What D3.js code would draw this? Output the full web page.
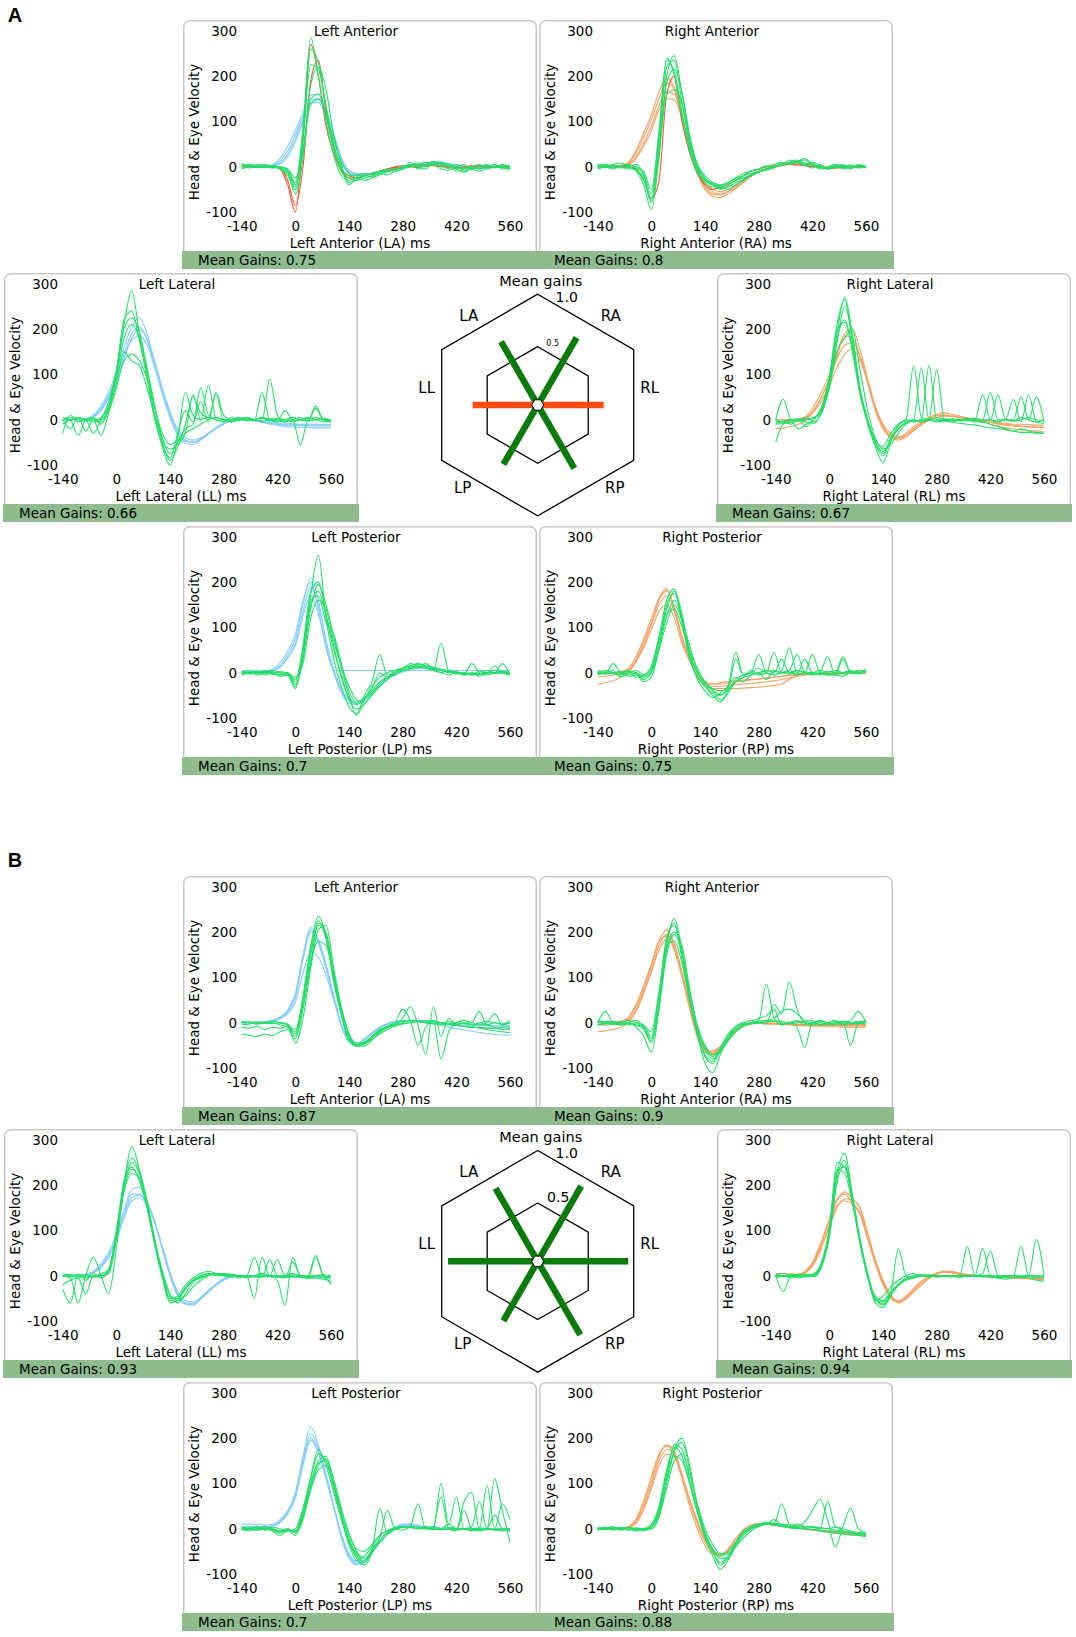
<!DOCTYPE html>
<html><head><meta charset="utf-8">
<script src="https://cdn.jsdelivr.net/npm/d3@7"></script>
<style>body{margin:0;background:#fff}svg{display:block}</style>
</head><body>
<svg id="c" width="1076" height="1637"></svg>
<script>
// ---------- data ----------
const timesMs = [-140,-120,-100,-80,-60,-40,-20,0,20,40,60,80,100,120,140,160,180,200,220,240,260,280,300,320,340,360,380,400,420,440,460,480,500,520,540,560];
const yTickValues = [-100,0,100,200,300];
const xTickValues = [-140,0,140,280,420,560];
const canalCodes = ["LA","RA","LL","RL","LP","RP"];
const canalNames = ["Left Anterior","Right Anterior","Left Lateral","Right Lateral","Left Posterior","Right Posterior"];
const gainsA = [0.75,0.8,0.66,0.67,0.7,0.75];
const gainsB = [0.87,0.9,0.93,0.94,0.7,0.88];

// A - Left Anterior
const A_LA_head = [
[0,0,0,1,3,12,35, 70,112,148,150,120,70,20, -10,-18,-18,-15,-10,-8,-5, -2,0,3,6,8,8,6, 3,0,-2,-3,-2,0,0,0],
[0,0,0,0,2,8,28, 62,105,140,142,110,60,12, -15,-20,-20,-16,-12,-8,-5, -2,2,5,8,10,10,7, 4,1,-1,-2,-1,0,0,0],
[0,0,1,2,5,18,45, 80,120,158,160,125,70,18, -10,-15,-16,-14,-10,-6,-4, -2,0,2,5,6,6,5, 2,0,-2,-3,-2,-1,0,0],
[0,0,0,0,1,6,22, 55,98,135,148,125,72,20, -8,-15,-16,-14,-10,-7,-4, -2,0,3,5,7,7,5, 3,1,-1,-2,-2,0,0,0]];
const A_LA_extra = [
[0,0,0,0,0,-5,-40, -100,60,270,200,90,30,-10, -25,-25,-20,-15,-10,-5,-2, 0,3,5,4,2,0,-2, -3,0,2,0,-2,0,0,0],
[0,0,0,0,0,-3,-30, -85,0,190,235,120,40,-5, -20,-25,-20,-15,-10,-5,0, 2,0,-2,3,5,2,0, -2,-3,0,2,0,-2,0,0]];
const A_LA_eye = [
[5,3,0,-2,0,-5,-20, -50,60,260,230,130,45,-10, -25,-30,-25,-20,-15,-10,-5, 0,5,-5,5,10,0,5, -10,-5,0,-5,0,5,-5,0],
[0,5,2,0,3,-2,-10, -40,90,285,200,100,25,-20, -30,-25,-20,-22,-15,-18,-10, -5,10,0,-5,8,5,-5, 5,-10,0,5,-5,0,3,0],
[-5,0,3,5,0,-5,-15, -60,20,180,220,170,70,5, -35,-30,-20,-15,-12,-8,-10, -5,0,5,10,5,-5,-8, 0,5,-5,-10,-3,2,0,-5],
[3,-3,0,2,-2,0,-8, -35,40,150,160,110,40,-5, -20,-18,-20,-15,-10,-5,-8, 0,3,8,2,5,10,3, -5,-3,0,-5,2,0,-2,3],
[0,2,-2,0,0,-3,-12, -45,70,225,215,135,50,0, -40,-22,-15,-18,-10,-12,-5, -3,2,0,5,12,8,0, -5,-12,-5,0,5,-2,0,-8],
[8,0,5,0,-3,0,-5, -25,30,140,150,115,60,10, -15,-25,-30,-25,-18,-10,-5, -2,0,3,0,5,8,5, 0,-3,-5,0,2,-2,5,0]];

// A - Right Anterior
const A_RA_head = [
[0,0,0,2,8,30,65, 105,150,185,170,110,45,-10, -45,-60,-62,-55,-40,-28,-18, -10,-3,2,5,8,8,5, 2,0,-2,-3,-2,0,0,0],
[0,0,0,1,5,22,52, 90,135,165,160,110,50,-5, -40,-55,-60,-55,-45,-32,-20, -12,-5,0,3,6,7,5, 3,0,-2,-3,-2,-1,0,0],
[0,0,1,3,10,35,75, 115,165,195,175,105,35,-15, -50,-65,-68,-60,-48,-35,-22, -12,-5,0,4,7,8,6, 3,0,-1,-2,-2,0,0,0],
[0,0,0,1,4,18,45, 80,125,150,148,105,48,0, -35,-50,-55,-50,-42,-30,-20, -10,-4,0,3,5,6,5, 2,0,-2,-2,-1,0,0,0]];
const A_RA_extra = [
[0,0,0,0,0,-5,-30, -70,-30,160,200,100,30,-15, -40,-50,-45,-40,-30,-20,-10, -5,0,2,4,5,4,2, 0,-2,-3,-2,0,0,0,0]];
const A_RA_eye = [
[0,5,-3,0,5,-5,-25, -70,50,220,235,140,50,-10, -35,-45,-45,-38,-30,-20,-15, -10,-5,0,5,10,15,8, 5,0,-5,0,5,-3,2,0],
[-5,0,5,8,0,-10,-40, -95,20,200,245,160,60,0, -30,-40,-50,-42,-30,-25,-18, -10,-8,-3,5,8,12,15, 5,-5,-3,5,0,-5,3,-2],
[5,3,0,-3,0,5,-15, -60,70,235,210,120,35,-15, -30,-35,-40,-35,-25,-15,-10, -5,0,5,10,5,12,5, -3,5,-5,0,-2,4,-3,0],
[0,-2,3,0,-5,-3,-20, -80,40,185,215,165,70,5, -25,-38,-48,-45,-35,-28,-20, -12,-5,0,3,15,10,2, 8,-2,0,5,-5,0,2,-3],
[3,0,-5,2,3,0,-10, -50,80,240,200,110,40,-5, -28,-40,-42,-35,-25,-20,-10, -5,2,-2,8,5,10,18, 5,0,-5,3,0,-3,5,0],
[-3,5,2,0,-2,-8,-30, -75,30,160,170,140,60,5, -20,-35,-45,-50,-40,-30,-20, -12,-5,0,5,8,10,5, 10,3,-5,-2,3,0,-2,2]];

// A - Left Lateral
const A_LL_head = [
[0,0,0,2,8,25,55, 95,145,190,205,175,120,60, 10,-30,-48,-50,-42,-30,-18, -8,-2,0,0,-2,-5,-8, -10,-12,-12,-13,-13,-14,-14,-14],
[0,0,0,1,5,20,48, 85,135,180,200,180,130,70, 18,-25,-45,-50,-45,-32,-20, -10,-3,0,0,-2,-4,-6, -8,-10,-10,-11,-12,-12,-12,-12],
[0,0,1,3,10,30,62, 105,160,205,225,190,125,55, 5,-35,-52,-55,-45,-30,-18, -8,-2,0,-1,-3,-6,-10, -12,-15,-16,-17,-17,-18,-18,-18],
[0,0,0,2,6,22,50, 90,140,175,185,165,115,60, 15,-20,-40,-45,-40,-30,-18, -8,-3,0,0,-1,-3,-5, -7,-8,-9,-10,-10,-10,-10,-10]];
const A_LL_eye = [
[0,-20,5,0,-5,5,30, 100,210,285,190,100,10,-60, -100,-40,60,10,0,5,0, -5,0,5,0,0,5,0, 3,0,-3,0,5,0,-5,0],
[-30,10,-5,0,-30,0,40, 110,220,240,175,90,0,-55, -85,-30,20,-5,70,10,0, -3,5,0,2,-2,60,0, -5,0,5,0,-3,30,0,-5],
[5,0,-35,0,5,-10,20, 80,150,130,120,70,10,-45, -65,-55,-30,55,0,75,5, 0,-5,0,5,0,-3,90, 10,-5,0,-55,0,5,0,0],
[0,5,0,-3,0,-5,25, 95,180,210,180,110,30,-40, -75,-50,-20,-10,40,-5,60, 10,0,3,-2,0,5,0, -3,20,0,5,-2,0,3,-3],
[-10,0,5,-25,0,-35,15, 70,130,145,130,90,25,-30, -55,-45,-30,-20,-10,0,5, 0,-5,0,5,0,-5,2, 0,0,-5,0,3,0,0,-5],
[0,0,5,0,2,0,30, 105,200,225,195,115,30,-50, -90,-60,-10,50,15,5,55, 0,0,-2,5,0,3,-2, 0,-5,5,0,-2,25,0,-3]];

// A - Right Lateral
const A_RL_head = [
[0,0,0,2,8,30,62, 100,150,185,180,140,80,20, -20,-38,-40,-30,-15,-5,5, 10,10,8,5,2,0,-3, -6,-10,-12,-14,-15,-16,-17,-18],
[-20,-18,-15,-10,0,20,52, 90,135,165,170,140,85,25, -15,-35,-42,-35,-20,-8,2, 8,10,8,5,2,-2,-5, -10,-14,-18,-20,-22,-24,-25,-27],
[0,0,0,1,5,22,50, 88,140,190,200,155,90,25, -15,-40,-45,-38,-22,-8,3, 12,15,12,8,4,0,-3, -5,-7,-8,-10,-10,-11,-12,-12],
[-5,-5,-3,0,4,18,42, 75,115,145,155,130,85,30, -10,-30,-38,-35,-25,-12,-2, 5,8,7,5,3,0,-2, -5,-8,-10,-12,-14,-15,-16,-17]];
const A_RL_eye = [
[-50,-10,-5,-20,-10,0,25, 90,210,265,170,60,-10,-60, -95,-50,-10,0,120,5,0, -3,0,2,0,-2,0,55, 0,-5,0,0,50,0,-5,0],
[0,45,0,-3,0,5,20, 80,190,270,190,70,0,-50, -70,-45,-20,-5,0,115,0, 5,0,-3,0,3,-2,0, 0,55,0,-3,5,0,50,-5],
[-8,-5,-10,0,-15,0,30, 95,200,215,150,55,-5,-55, -80,-40,-15,0,-3,0,120, 0,-2,0,-3,0,-5,-5, -10,-15,-20,-25,-20,-25,-28,-30],
[0,-5,0,-3,5,-5,15, 70,150,180,200,110,20,-40, -65,-55,-30,-10,0,-5,0, 110,0,-5,0,0,3,0, 60,0,0,-3,0,5,0,-2],
[-10,-8,-5,0,-5,-8,22, 88,180,220,160,65,0,-45, -60,-30,-10,-3,-5,0,-2, 0,2,0,0,-2,0,-5, 0,-3,0,45,-5,55,-5,-8],
[-5,-3,0,2,0,5,18, 75,170,250,180,65,-5,-50, -75,-45,-20,-8,-3,-2,0, -5,-3,-5,-8,-10,-12,-15, -18,-20,-22,-25,-28,-28,-30,-30]];

// A - Left Posterior
const A_LP_head = [
[0,0,0,2,5,16,40, 75,150,210,160,70,5,-40, -62,-68,-60,-45,-30,-15,-5, 2,8,12,12,10,6,3, 0,-2,-3,-3,-2,0,0,0],
[0,0,0,1,4,13,34, 65,135,190,150,70,8,-35, -58,-65,-58,-42,-28,-12,-3, 3,8,10,10,8,5,2, 0,-2,-2,-2,-1,0,0,0],
[5,5,4,4,8,22,48, 85,160,200,140,55,0,-45, -68,-70,-60,-44,-28,-14,-4, 2,6,10,10,8,5,3, 0,-1,-2,-3,-2,0,0,0],
[0,0,0,1,4,12,32, 60,125,170,130,60,5,5, 5,5,5,5,5,5,5, 5,5,5,5,5,5,5, 5,5,5,5,5,5,5,5]];
const A_LP_eye = [
[0,5,-3,0,5,0,-5, -30,40,170,260,120,30,-30, -75,-90,-50,-20,40,-5,0, 10,15,20,15,10,5,0, 3,-5,0,-3,5,0,20,-5],
[-5,0,3,-5,0,-5,0, -20,60,180,200,130,60,-10, -55,-70,-60,-40,-20,-10,0, 8,12,15,10,5,65,5, 0,-5,0,-8,0,5,0,-3],
[3,-3,0,5,-3,2,0, -25,30,140,195,150,80,10, -50,-95,-60,-30,-10,0,5, 10,20,15,12,5,0,-5, 0,-3,20,0,-5,0,3,0],
[0,2,-5,0,3,-8,-5, -35,50,160,170,110,85,20, -40,-65,-55,-35,0,-10,5, 10,15,10,20,8,0,5, -3,0,-5,3,0,15,0,-5],
[-3,0,0,3,0,0,-3, -15,45,150,180,125,50,-5, -60,-80,-70,-45,-25,-10,-5, 5,8,18,15,12,8,5, 0,-2,-5,-3,0,-2,0,0],
[2,-2,3,0,-3,-5,-2, -10,20,120,160,140,70,15, -30,-60,-65,-50,-30,-15,0, 5,10,12,10,8,5,2, 0,0,-3,-2,0,0,2,0]];

// A - Right Posterior
const A_RP_head = [
[0,0,0,2,10,35,75, 120,165,185,140,75,30,-5, -22,-25,-22,-20,-18,-16,-15, -14,-12,-10,-8,-6,-5,-4, -3,-2,-2,-2,-1,0,0,0],
[-25,-22,-18,-10,0,25,60, 105,150,170,135,75,30,-10, -30,-35,-35,-35,-35,-34,-33, -32,-30,-28,-25,-15,-8,-5, -3,-2,-2,-1,0,0,0,0],
[0,0,0,1,6,25,55, 95,135,150,120,65,25,-5, -20,-25,-25,-22,-20,-18,-16, -14,-12,-10,-8,-6,-5,-4, -3,-2,-2,-1,-1,0,0,0],
[-10,-8,-5,-2,5,28,68, 110,160,180,145,80,32,-8, -26,-30,-30,-28,-26,-25,-24, -22,-20,-18,-15,-12,-8,-5, -3,-2,-1,-1,0,0,0,0]];
const A_RP_eye = [
[0,5,0,-5,0,5,-5, 10,80,160,185,110,30,-10, -30,-45,-50,-30,45,-5,0, 40,0,-5,0,5,-3,30, 0,-5,0,5,0,3,0,5],
[3,-3,20,0,-5,0,-15, 0,60,140,180,130,40,0, -25,-40,-60,-45,-20,-10,5, -5,0,45,0,5,40,0, -5,0,35,-5,0,5,0,8],
[-5,0,5,-10,0,-3,-20, -10,50,110,150,115,60,5, -30,-50,-65,-40,-15,-5,0, 10,0,-5,5,55,0,-3, 0,5,0,-5,30,0,3,5],
[0,-3,0,3,-8,-5,-10, 5,70,150,175,120,35,-15, -40,-55,-45,-30,-10,-20,-5, 0,-15,5,0,0,-5,0, -3,0,-5,-5,-8,0,0,5],
[5,0,-3,0,5,-10,-5, 15,75,130,140,100,45,0, -20,-35,-40,-35,30,-5,0, -3,5,0,30,0,5,0, 40,0,-5,0,35,0,-3,0],
[-3,2,0,-5,3,0,-8, 0,55,125,160,120,50,10, -20,-38,-48,-38,-20,-10,-5, 0,5,3,0,-3,5,2, 0,-2,3,0,-3,0,5,3]];

// B - Left Anterior
const B_LA_head = [
[0,0,0,2,6,12,28, 65,150,210,185,130,60,-5, -40,-50,-38,-22,-10,-2,3, 5,5,3,0,-3,-6,-10, -13,-16,-19,-22,-24,-26,-27,-28],
[0,0,0,1,4,10,24, 55,140,200,180,125,58,-5, -38,-48,-38,-25,-12,-4,2, 5,6,5,3,0,-2,-4, -6,-8,-10,-11,-12,-13,-14,-15],
[0,0,0,2,5,11,26, 60,145,205,175,120,55,-8, -42,-50,-36,-22,-10,-3,2, 4,5,4,2,0,-2,-3, -4,-5,-5,-6,-6,-6,-6,-6],
[0,0,0,1,3,8,20, 45,110,155,145,105,50,-5, -35,-45,-36,-24,-12,-4,1, 3,4,4,3,2,0,-1, -2,-3,-4,-5,-6,-7,-8,-8]];
const B_LA_eye = [
[-25,-28,-30,-25,-28,-20,-15, -35,30,130,220,200,110,30, -30,-50,-48,-32,-18,-8,0, 3,5,3,0,-2,-4,-5, -6,-8,-10,-10,-12,-12,-10,-10],
[0,2,-3,0,2,0,-5, -45,10,120,205,215,120,35, -25,-52,-52,-38,-22,-10,-3, 0,5,3,0,5,0,-3, 0,5,-5,0,3,0,-3,5],
[-10,-12,-8,-15,-10,-12,-8, -20,60,170,235,190,90,15, -40,-50,-42,-30,-15,-10,-5, 10,35,-5,-70,35,-30,10, -5,0,-10,0,-5,-10,-15,-12],
[0,0,2,0,-2,0,-3, -30,40,150,215,195,100,20, -35,-48,-44,-32,-18,-8,0, 30,5,-50,-10,5,-80,-20, 0,5,0,-5,0,20,-5,0],
[-5,-3,0,-2,0,-5,-10, -25,50,160,225,185,95,20, -38,-52,-46,-32,-20,-10,-5, -2,0,2,0,-2,0,2, 0,-2,0,25,-5,0,-3,0],
[3,0,-3,0,3,0,-5, -15,45,135,180,170,105,30, -25,-45,-45,-36,-25,-15,-8, -3,0,3,5,3,0,-3, -5,-8,-10,-12,-15,-18,-20,-22]];

// B - Right Anterior
const B_RA_head = [
[0,0,0,2,10,35,75, 125,180,205,175,110,35,-30, -60,-68,-55,-35,-15,-5,0, 0,-2,-3,-3,-4,-5,-5, -6,-6,-6,-6,-7,-7,-7,-7],
[-20,-18,-15,-10,0,25,65, 115,170,195,170,110,40,-25, -58,-65,-55,-38,-20,-8,-2, 0,-2,-3,-4,-5,-6,-7, -8,-8,-9,-9,-10,-10,-10,-10],
[0,0,1,3,12,40,82, 130,180,190,160,100,30,-32, -65,-72,-60,-40,-20,-8,-2, 0,0,-1,-2,-2,-3,-3, -3,-4,-4,-4,-4,-4,-4,-4],
[-5,-5,-3,0,6,28,68, 112,160,185,165,108,42,-22, -55,-62,-52,-35,-18,-6,-1, 0,-1,-2,-3,-3,-4,-4, -5,-5,-5,-6,-6,-6,-6,-6]];
const B_RA_eye = [
[0,25,0,-5,0,-10,-30, -65,30,170,230,160,60,-20, -75,-90,-60,-30,-10,-3,0, 5,85,10,-5,0,5,-5, 0,3,0,-5,0,5,25,0],
[5,0,-5,3,0,-5,-15, -40,50,180,220,150,55,-25, -90,-110,-70,-35,-10,0,5, 0,-3,40,20,90,30,0, -5,0,-5,0,3,0,0,-3],
[-5,-3,0,-5,0,5,-10, -35,40,160,200,170,75,-10, -60,-80,-65,-40,-20,-5,0, 10,15,30,-5,0,-10,-55, 0,-5,0,5,-5,0,3,0],
[0,3,0,-3,0,-5,-8, -30,60,190,215,140,50,-25, -70,-85,-55,-25,-8,0,-3, 0,5,10,25,30,20,5, 0,5,0,-3,0,-50,0,5],
[-5,0,3,0,-5,0,-5, -20,70,170,180,130,50,-15, -55,-75,-60,-35,-15,-5,0, 3,5,3,0,-3,0,3, 5,-5,0,3,0,-3,0,0],
[3,0,-3,0,5,0,-12, -45,35,150,195,155,70,-5, -50,-70,-60,-40,-20,-8,-3, 0,2,4,3,0,2,0, -2,0,-3,0,2,0,-2,2]];

// B - Left Lateral
const B_LL_head = [
[0,0,0,2,8,22,45, 85,135,180,180,160,120,62, 5,-40,-60,-62,-50,-35,-20, -8,-2,0,0,-1,-2,-3, -3,-4,-4,-4,-5,-5,-5,-5],
[0,0,0,1,6,18,40, 78,130,172,178,158,118,60, 2,-42,-62,-65,-52,-36,-22, -10,-3,0,0,0,-1,-2, -2,-3,-3,-3,-3,-4,-4,-4],
[0,0,1,3,10,26,52, 92,145,190,195,165,120,58, 0,-45,-63,-65,-50,-32,-18, -6,-1,1,0,-1,-2,-2, -3,-3,-3,-3,-3,-3,-3,-3],
[0,0,0,2,7,20,44, 80,128,165,172,155,118,64, 8,-35,-55,-58,-48,-34,-20, -9,-2,0,0,0,-1,-1, -2,-2,-2,-2,-3,-3,-3,-3]];
const B_LL_eye = [
[-30,-60,0,-10,5,-5,10, 100,210,260,230,160,75,0, -50,-50,-25,-10,0,5,0, 0,0,-5,0,-50,40,0, 35,0,5,0,0,45,0,-5],
[0,-5,-60,0,40,0,-40, 60,200,285,235,165,80,5, -50,-45,-20,-5,5,10,5, 0,-3,0,0,0,5,0, -10,-65,40,0,-5,0,0,-20],
[5,0,3,-5,0,0,5, 80,190,235,215,150,70,-5, -60,-55,-30,-10,0,5,3, 0,0,-2,0,40,0,0, 0,0,0,-3,0,0,-3,0],
[-20,-10,-5,-40,0,0,15, 90,195,250,225,160,78,5, -45,-60,-40,-15,-5,0,5, 3,0,0,-5,0,-3,35, 0,-5,30,0,-5,40,0,-15],
[0,3,-5,0,-3,5,12, 95,205,240,210,150,70,0, -55,-50,-28,-12,-3,2,5, 3,2,0,-2,0,2,0, -2,0,2,0,-2,0,2,0],
[0,-2,0,2,-3,0,8, 85,185,225,215,155,80,10, -40,-55,-45,-25,-10,0,5, 5,3,0,-2,-3,-2,0, -2,-3,-2,-3,-5,-5,-8,-10]];

// B - Right Lateral
const B_RL_head = [
[0,0,0,2,10,32,72, 120,165,185,170,150,90,30, -15,-45,-58,-48,-30,-15,-3, 5,8,6,3,1,0,-1, -2,-3,-4,-5,-6,-7,-8,-9],
[0,0,0,1,7,26,62, 108,150,170,168,150,95,35, -10,-42,-60,-52,-36,-20,-6, 3,8,8,5,2,0,-1, -2,-3,-4,-5,-6,-6,-7,-8],
[0,0,1,3,12,36,78, 125,170,180,160,135,80,25, -20,-50,-58,-45,-28,-12,0, 6,9,7,4,2,0,-1, -2,-3,-3,-4,-5,-5,-6,-7],
[5,5,4,3,10,30,65, 110,155,165,158,140,88,32, -12,-44,-55,-48,-34,-20,-6, 4,10,9,6,3,1,0, -1,-2,-3,-4,-5,-6,-7,-8]];
const B_RL_eye = [
[0,-35,0,-3,0,5,30, 105,250,240,170,75,0,-55, -45,-25,-10,0,5,0,0, -2,0,0,0,65,0,0, -3,0,0,0,65,0,-5,0],
[-5,0,-5,0,3,0,25, 95,225,270,180,80,5,-50, -65,-40,60,0,-5,0,-3, 0,0,0,-3,0,0,60, 0,-5,0,0,0,0,80,0],
[0,5,0,-5,0,3,30, 100,235,225,160,70,-5,-45, -55,-35,-20,-10,-5,0,0, -3,0,0,0,0,0,5, 55,0,-5,0,-3,0,0,-5],
[-3,0,3,0,-3,0,22, 90,215,255,175,80,0,-60, -70,-45,-20,-8,-2,0,2, 0,-2,0,-3,0,-2,0, -3,0,-2,0,-3,0,-2,0],
[0,-3,0,3,0,-2,20, 85,205,245,165,75,0,-50, -62,-42,-22,-8,-3,0,-2, 0,0,-3,0,-2,0,-3, 0,-5,-8,-5,-3,-5,-10,-12],
[2,0,-2,0,2,0,28, 100,230,240,170,78,-2,-52, -58,-38,-18,-5,0,2,0, 0,-2,0,0,0,-2,0, 0,-2,0,0,-2,0,0,-2]];

// B - Left Posterior
const B_LP_head = [
[0,0,0,2,6,15,38, 80,160,225,185,120,50,-20, -65,-80,-75,-55,-30,-10,3, 10,10,6,3,1,0,0, -1,-1,-2,-2,-2,-2,-2,-2],
[10,10,9,8,10,20,40, 75,150,210,178,115,50,-15, -60,-78,-72,-52,-30,-12,2, 8,9,6,3,1,0,0, 0,-1,-1,-1,-1,-1,-1,-1],
[0,0,0,1,5,13,32, 68,140,195,168,110,48,-15, -58,-75,-70,-52,-30,-12,0, 7,8,5,3,1,0,0, 0,0,0,0,0,0,0,0],
[5,5,4,4,7,16,36, 72,148,200,172,112,50,-12, -55,-72,-70,-52,-32,-14,-2, 6,10,8,5,3,1,0, 0,0,-1,-1,-1,-1,-1,-1]];
const B_LP_eye = [
[0,3,-3,0,-5,-15,-5, -5,40,110,165,150,90,25, -30,-65,-80,-50,45,-10,0, 5,3,0,5,0,100,10, 70,0,5,60,0,110,40,-30],
[-3,0,5,-3,0,-5,0, -10,30,95,150,160,100,30, -25,-55,-70,-45,-20,40,0, -3,5,55,0,5,0,10, 0,60,80,0,95,0,55,20],
[5,0,-3,0,3,0,-5, 0,45,115,175,140,80,20, -35,-70,-60,-40,-15,-5,0, 5,3,0,0,5,70,0, -5,40,0,-5,0,30,0,-5],
[0,-5,0,5,-3,-10,-3, -15,20,85,130,140,100,40, -15,-45,-50,-35,-15,-5,3, 5,3,0,2,0,-2,0, -3,0,-5,-2,0,-3,-5,-3],
[-2,0,3,-2,0,-8,-3, -5,35,100,145,150,95,30, -25,-60,-75,-50,-25,-8,0, 4,5,3,0,-2,0,3, 0,-2,0,2,0,-2,0,0],
[3,-2,0,2,-2,-5,0, -8,25,90,140,155,110,45, -10,-50,-65,-50,-30,-12,-2, 3,5,3,1,0,-2,0, -1,0,-2,0,-1,0,-2,-1]];

// B - Right Posterior
const B_RP_head = [
[0,0,0,0,3,18,55, 105,160,185,170,120,60,10, -30,-52,-58,-45,-22,-3,8, 10,10,8,6,4,2,0, -2,-4,-6,-8,-10,-11,-12,-13],
[0,0,0,0,2,14,48, 95,150,175,165,118,62,15, -25,-48,-56,-48,-28,-8,5, 9,10,8,5,3,1,-1, -3,-5,-7,-9,-10,-11,-12,-12],
[0,0,0,1,5,22,62, 115,165,182,162,110,50,0, -38,-56,-60,-45,-22,-2,8, 11,10,8,6,3,1,-1, -3,-5,-7,-9,-11,-13,-14,-15],
[0,0,0,0,2,12,42, 88,140,165,160,118,65,18, -22,-46,-56,-50,-30,-8,4, 9,10,8,6,4,2,0, -2,-3,-5,-6,-8,-9,-10,-11]];
const B_RP_eye = [
[0,3,-3,0,3,0,-3, 5,40,120,185,175,110,40, -15,-50,-75,-60,-30,-5,5, 10,15,12,55,10,5,15, 40,65,20,-40,5,45,0,-10],
[-3,0,5,-3,0,-5,0, 0,30,100,170,190,130,50, -10,-45,-65,-65,-40,-15,0, 8,12,10,8,5,10,5, 3,0,60,5,0,-5,-8,-10],
[3,-3,0,3,-3,2,-2, 10,50,130,180,160,100,35, -20,-60,-90,-70,-35,-10,3, 10,12,8,5,2,0,3, 5,2,0,3,-5,-8,-12,-15],
[0,0,3,0,-3,0,0, 0,25,90,150,165,120,55, 0,-35,-55,-55,-40,-20,-5, 5,10,12,10,8,6,5, 3,2,0,-3,-5,-8,-10,-12],
[-2,2,0,-2,2,0,-5, 3,35,110,175,200,140,50, -10,-50,-80,-65,-35,-10,0, 8,10,20,8,5,3,0, -2,-5,-8,-10,-12,-14,-15,-18],
[2,0,-2,0,2,-3,0, 8,45,125,160,150,100,40, -10,-45,-60,-52,-30,-10,0, 6,10,8,6,4,2,0, -2,-3,-5,-6,-8,-10,-12,-12]];

// ---------- assembly ----------
const traces = {
  A: {LA:{head:A_LA_head, extra:A_LA_extra, eye:A_LA_eye}, RA:{head:A_RA_head, extra:A_RA_extra, eye:A_RA_eye},
      LL:{head:A_LL_head, extra:[], eye:A_LL_eye}, RL:{head:A_RL_head, extra:[], eye:A_RL_eye},
      LP:{head:A_LP_head, extra:[], eye:A_LP_eye}, RP:{head:A_RP_head, extra:[], eye:A_RP_eye}},
  B: {LA:{head:B_LA_head, extra:[], eye:B_LA_eye}, RA:{head:B_RA_head, extra:[], eye:B_RA_eye},
      LL:{head:B_LL_head, extra:[], eye:B_LL_eye}, RL:{head:B_RL_head, extra:[], eye:B_RL_eye},
      LP:{head:B_LP_head, extra:[], eye:B_LP_eye}, RP:{head:B_RP_head, extra:[], eye:B_RP_eye}}
};

const svg = d3.select('#c');
const FONT = "'DejaVu Sans', Verdana, sans-serif";
const FS = 13.5;
const PW = 354, PH = 249;
const slotX = {LA:183, RA:539, LL:4, RL:717, LP:183, RP:539};
const slotRow = {LA:0, RA:0, LL:1, RL:1, LP:2, RP:2};
const rowTop = [20, 273, 526];
const setShift = {A:0, B:856};
const COL = {blue:'#87cefa', orange:'#f6a164', eye:'#22dd66', red:'#ff5533', bar:'#8fbc8f', border:'#c8c8c8'};

svg.append('rect').attr('width',1076).attr('height',1637).attr('fill','#fff');

function drawPanel(setKey, ci, gain) {
  const code = canalCodes[ci];
  const px = slotX[code], py = rowTop[slotRow[code]] + setShift[setKey];
  const g = svg.append('g');
  g.append('rect').attr('x',px+0.75).attr('y',py+0.75).attr('width',PW-1.5).attr('height',PH-1.5)
    .attr('rx',6).attr('fill','#fff').attr('stroke',COL.border).attr('stroke-width',1.5);
  g.append('rect').attr('x',px-1).attr('y',py+231).attr('width',PW+2).attr('height',18).attr('fill',COL.bar);
  g.append('text').attr('x',px+15).attr('y',py+240).attr('dominant-baseline','central')
    .attr('font-family',FONT).attr('font-size',FS).attr('fill','#000').text('Mean Gains: ' + String(gain));

  const x = d3.scaleLinear().domain([-140,560]).range([px+58.7, px+327]);
  const y = d3.scaleLinear().domain([-100,300]).range([py+192, py+10.8]);
  const line = d3.line().x((d,i)=>x(timesMs[i])).y(d=>y(d)).curve(d3.curveMonotoneX);
  const tr = traces[setKey][code];
  const headColor = (ci % 2 === 0) ? COL.blue : COL.orange;
  const layer = (data, color, w) => g.append('g').selectAll('path').data(data).join('path')
      .attr('d', line).attr('fill','none').attr('stroke', color).attr('stroke-width', w).attr('stroke-linejoin','round');
  layer(tr.head, headColor, 1.1);
  layer(tr.extra, COL.red, 1.1);
  layer(tr.eye, COL.eye, 1.05);

  const ya = g.append('g').attr('transform',`translate(${px+54},0)`)
    .call(d3.axisLeft(y).tickValues(yTickValues).tickSize(0).tickPadding(0).tickFormat(d=>String(d)));
  ya.select('.domain').remove();
  ya.attr('font-size',FS).attr('font-family',FONT);
  ya.selectAll('text').attr('fill','#000');

  const xa = g.append('g').attr('transform',`translate(0,${py+201})`)
    .call(d3.axisBottom(x).tickValues(xTickValues).tickSize(0).tickPadding(0).tickFormat(d=>String(d)));
  xa.select('.domain').remove();
  xa.attr('font-size',FS).attr('font-family',FONT);
  xa.selectAll('text').attr('fill','#000');

  g.append('text').attr('x',px+173).attr('y',py+11).attr('text-anchor','middle').attr('dominant-baseline','central')
    .attr('font-family',FONT).attr('font-size',FS).attr('fill','#000').text(canalNames[ci]);
  g.append('text').attr('x',px+177).attr('y',py+222.5).attr('text-anchor','middle').attr('dominant-baseline','central')
    .attr('font-family',FONT).attr('font-size',FS).attr('fill','#000').text(`${canalNames[ci]} (${code}) ms`);
  g.append('text').attr('transform',`translate(${px+10.5},${py+112}) rotate(-90)`).attr('text-anchor','middle')
    .attr('dominant-baseline','central').attr('font-family',FONT).attr('font-size',FS).attr('fill','#000')
    .text('Head & Eye Velocity');
}

function drawRadar(gains, cy, halfStyle) {
  const cx = 537.7;
  const apo = d3.scaleLinear().domain([0,1]).range([5,96]);
  const rad = v => apo(v) / Math.cos(Math.PI/6);
  const hexPts = (R, start) => d3.range(6).map(k => {
    const a = (start + 60*k) * Math.PI/180; return [cx + R*Math.cos(a), cy - R*Math.sin(a)];
  }).map(p => p.join(',')).join(' ');
  const g = svg.append('g');
  [1, 0.5].forEach(v => g.append('polygon').attr('points', hexPts(rad(v), 90))
    .attr('fill','none').attr('stroke','#000').attr('stroke-width',1.3));
  const dirs = {LA:120, RA:60, LL:180, RL:0, LP:240, RP:300};
  canalCodes.forEach((c,i) => {
    const a = dirs[c]*Math.PI/180, L = apo(gains[i]);
    g.append('line').attr('x1',cx).attr('y1',cy).attr('x2',cx+L*Math.cos(a)).attr('y2',cy-L*Math.sin(a))
      .attr('stroke', gains[i] < 0.7 ? '#ff4a10' : '#0a7a0a').attr('stroke-width',6.5);
  });
  g.append('polygon').attr('points', hexPts(6, 0)).attr('fill','#fff').attr('stroke','#000').attr('stroke-width',1);
  const lab = {LA:[-69,-89], RA:[73,-89], LL:[-111,-17], RL:[112,-17], LP:[-75,83], RP:[77,83]};
  const t = (dx,dy,s,size) => g.append('text').attr('x',cx+dx).attr('y',cy+dy).attr('text-anchor','middle')
    .attr('dominant-baseline','central').attr('font-family',FONT).attr('font-size',size).attr('fill','#000').text(s);
  canalCodes.forEach(c => t(lab[c][0], lab[c][1], c, 15));
  t(3,-124,'Mean gains',14.5);
  t(29,-108.5,'1.0',14);
  if (halfStyle === 'small') t(15,-61.5,'0.5',8); else t(20.5,-64,'0.5',14);
}

canalCodes.forEach((c,i) => drawPanel('A', i, gainsA[i]));
canalCodes.forEach((c,i) => drawPanel('B', i, gainsB[i]));
drawRadar(gainsA, 405, 'small');
drawRadar(gainsB, 1261.3, 'large');

svg.append('text').attr('x',15).attr('y',15).attr('text-anchor','middle').attr('dominant-baseline','central')
  .attr('font-family',"'Liberation Sans', Arial, sans-serif").attr('font-weight','bold').attr('font-size',20).text('A');
svg.append('text').attr('x',15).attr('y',860).attr('text-anchor','middle').attr('dominant-baseline','central')
  .attr('font-family',"'Liberation Sans', Arial, sans-serif").attr('font-weight','bold').attr('font-size',20).text('B');
</script>
</body></html>
